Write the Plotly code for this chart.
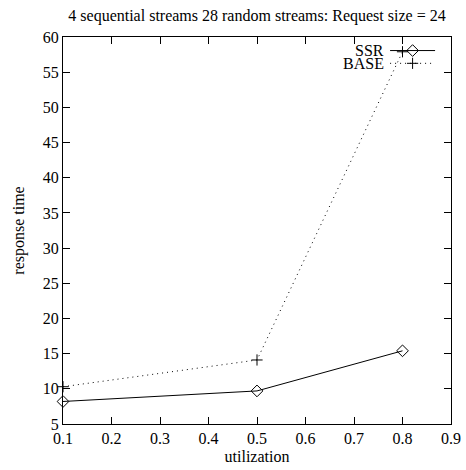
import plotly.graph_objects as go

utilization = [0.1, 0.5, 0.8]
ssr = [8.2, 9.7, 15.4]
base = [10.3, 14.1, 57.9]
x_ticks = [0.1, 0.2, 0.3, 0.4, 0.5, 0.6, 0.7, 0.8, 0.9]
y_ticks = [5, 10, 15, 20, 25, 30, 35, 40, 45, 50, 55, 60]

FONT = dict(family="Liberation Serif", size=16, color="black")
DIAMOND = dict(symbol="diamond-open", size=9, color="black", line=dict(width=1, color="black"))
PLUS = dict(symbol="cross-thin-open", size=8, color="black", line=dict(width=1, color="black"))

fig = go.Figure()
fig.add_trace(go.Scatter(x=utilization, y=ssr, mode="lines+markers", name="SSR",
                         line=dict(color="black", width=1), marker=DIAMOND,
                         showlegend=False, cliponaxis=False))
fig.add_trace(go.Scatter(x=utilization, y=base, mode="lines+markers", name="BASE",
                         line=dict(color="black", width=1, dash="1px,4px"), marker=PLUS,
                         showlegend=False, cliponaxis=False))

# gnuplot-style key drawn on a hidden overlay axis (0..1 coordinates)
key_x = [0.843, 0.959]
key_mid = 0.901
key_rows = {"SSR": 0.965, "BASE": 0.932}
fig.add_trace(go.Scatter(x=key_x, y=[key_rows["SSR"]] * 2, mode="lines", xaxis="x2", yaxis="y2",
                         line=dict(color="black", width=1), showlegend=False, hoverinfo="skip"))
fig.add_trace(go.Scatter(x=[key_mid], y=[key_rows["SSR"]], mode="markers", xaxis="x2", yaxis="y2",
                         marker=DIAMOND, showlegend=False, hoverinfo="skip"))
fig.add_trace(go.Scatter(x=key_x, y=[key_rows["BASE"]] * 2, mode="lines", xaxis="x2", yaxis="y2",
                         line=dict(color="black", width=1, dash="1px,4px"), showlegend=False, hoverinfo="skip"))
fig.add_trace(go.Scatter(x=[key_mid], y=[key_rows["BASE"]], mode="markers", xaxis="x2", yaxis="y2",
                         marker=PLUS, showlegend=False, hoverinfo="skip"))
for name, yy in key_rows.items():
    fig.add_annotation(x=0.832, y=yy, xref="paper", yref="paper", text=name, showarrow=False,
                       xanchor="right", yanchor="middle", font=FONT)

axis_common = dict(showline=True, linecolor="black", linewidth=1, mirror="ticks", ticks="inside",
                   ticklen=7, tickcolor="black", tickwidth=1, showgrid=False, zeroline=False,
                   tickfont=FONT, title_font=FONT)
fig.update_layout(
    width=466, height=470,
    margin=dict(l=63, r=15, t=37, b=46),
    paper_bgcolor="white", plot_bgcolor="white",
    font=FONT,
    title=dict(text="4 sequential streams 28 random streams: Request size = 24",
               x=0.5, xref="paper", xanchor="center", y=1 - 15 / 470, yanchor="middle", font=FONT),
    xaxis=dict(range=[0.1, 0.9], tickvals=x_ticks, ticktext=[f"{v:.1f}" for v in x_ticks],
               title=dict(text="utilization", standoff=4), automargin=False, **axis_common),
    yaxis=dict(range=[5, 60], tickvals=y_ticks, ticktext=[str(v) for v in y_ticks],
               title=dict(text="response time", standoff=14), automargin=False, **axis_common),
    xaxis2=dict(range=[0, 1], overlaying="x", visible=False, fixedrange=True),
    yaxis2=dict(range=[0, 1], overlaying="y", visible=False, fixedrange=True),
)
fig.write_html("out.html", config={"displayModeBar": False},
               post_script="document.body.style.margin='0';document.body.style.overflow='hidden';")
